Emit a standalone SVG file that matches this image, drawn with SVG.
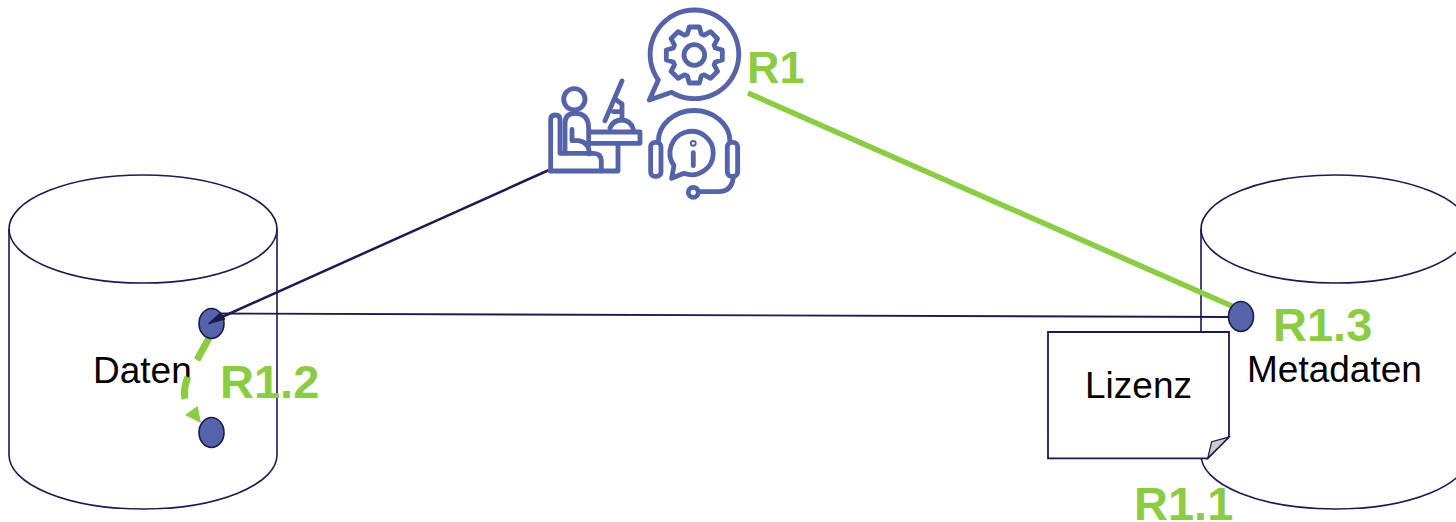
<svg xmlns="http://www.w3.org/2000/svg" width="1456" height="522" viewBox="0 0 1456 522">
<style>
.cyl{fill:#fff;stroke:#1c1a4e;stroke-width:1.6}
.dot{fill:#5563a8;stroke:#1c1a4e;stroke-width:1.6}
.lbl{font-family:"Liberation Sans",Arial,sans-serif;font-size:37px;fill:#000}
.grn{font-family:"Liberation Sans",Arial,sans-serif;font-size:47px;font-weight:bold;fill:#8ccc44}
.ico{fill:none;stroke:#5563a8;stroke-width:14.500;stroke-linecap:round;stroke-linejoin:round}
</style>
<rect width="1456" height="522" fill="#fff"/>
<g id="daten">
<path class="cyl" d="M9 229V455A134 54 0 0 0 277 455V229A134 54 0 0 0 9 229Z"/>
<path class="cyl" style="fill:none" d="M9 229A134 54 0 0 0 277 229"/>
<text class="lbl" x="93" y="383">Daten</text>
</g>
<g id="metadaten">
<path class="cyl" d="M1201 229V455A134 54 0 0 0 1469 455V229A134 54 0 0 0 1201 229Z"/>
<path class="cyl" style="fill:none" d="M1201 229A134 54 0 0 0 1469 229"/>
<text class="lbl" x="1247" y="382">Metadaten</text>
</g>
<g id="connectors">
<line x1="549" y1="170" x2="222" y2="317" stroke="#1c1a4e" stroke-width="2.500"/>
<line x1="212" y1="313.500" x2="1230" y2="317" stroke="#1c1a4e" stroke-width="1.800"/>
<line x1="748" y1="93" x2="1234" y2="307" stroke="#8ccc44" stroke-width="5.500"/>
<path d="M209 338L197 360" fill="none" stroke="#8ccc44" stroke-width="7"/>
<path d="M188 377Q183 388 185 399" fill="none" stroke="#8ccc44" stroke-width="7"/>
<polygon points="185,415 197.700,406 201,423" fill="#8ccc44"/>
</g>
<g id="lizenz">
<path d="M1048 332H1229V437L1207.700 458.300H1048Z" fill="#fff" stroke="#1c1a4e" stroke-width="1.800"/>
<path d="M1229 437L1207.700 458.300L1211.700 441.700Z" fill="#ccc" stroke="#1c1a4e" stroke-width="1.300"/>
<text class="lbl" x="1085" y="398">Lizenz</text>
</g>
<g id="dot-a"><ellipse class="dot" cx="211.500" cy="323.500" rx="12.500" ry="15"/>
<polygon points="208,324 220,313 225,319" fill="#1c1a4e" stroke="#1c1a4e" stroke-width="1"/></g>
<g id="dot-b"><ellipse class="dot" cx="211.500" cy="432.500" rx="12.500" ry="15"/></g>
<g id="dot-c"><ellipse class="dot" cx="1241" cy="316.500" rx="12.500" ry="15"/></g>
<g id="icons" transform="translate(530 0) scale(.3333)">
<g id="icon-person" class="ico">
<circle cx="133" cy="298" r="32"/>
<path d="M62 513V358Q62 345 76 345Q90 345 90 358V460H190Q214 460 214 484V513"/>
<path d="M60 513H264V432"/>
<path d="M105 460V370Q105 340 135 340Q176 340 176 385V436"/>
<path d="M126 388V422H146Q178 428 178 462"/>
<path d="M178 396H330V430H178"/>
<path d="M276 243L225 362"/>
<path d="M259 300L276 312V360M250 335H276"/>
<path d="M240 384Q250 360 275 360Q302 360 310 388"/>
</g>
<g id="icon-gear" class="ico">
<path d="M385 240L358 300L425 277A133 133 0 1 0 385 240Z"/>
<path transform="translate(493 165) scale(3)" style="stroke-width:4.800" d="M21 -7L28 -5V5L21 7L19.800 9.900L23.300 16.300L16.300 23.300L9.900 19.800L7 21L5 28H-5L-7 21L-9.900 19.800L-16.300 23.300L-23.300 16.300L-19.800 9.900L-21 7L-28 5V-5L-21 -7L-19.800 -9.900L-23.300 -16.300L-16.300 -23.300L-9.900 -19.800L-7 -21L-5 -28H5L7 -21L9.900 -19.800L16.300 -23.300L23.300 -16.300L19.800 -9.900Z"/>
<circle cx="493" cy="165" r="31"/>
</g>
<g id="icon-support" class="ico">
<path d="M385 425A107 93 0 0 1 600 425"/>
<rect x="362" y="427" width="31" height="102" rx="13"/>
<rect x="592" y="427" width="31" height="102" rx="13"/>
<path d="M432 497L425 535L462 520A65 65 0 1 0 432 497Z"/>
<path d="M490 458V497"/>
<circle cx="490" cy="430" r="3"/>
<path d="M610 532Q606 575 565 575H510"/>
<circle cx="490" cy="577" r="15"/>
</g>
</g>
<g id="labels">
<text class="grn" style="font-size:45px" x="747" y="83">R1</text>
<text class="grn" x="220" y="398">R1.2</text>
<text class="grn" x="1273" y="341">R1.3</text>
<text class="grn" x="1134" y="520">R1.1</text>
</g>
</svg>
